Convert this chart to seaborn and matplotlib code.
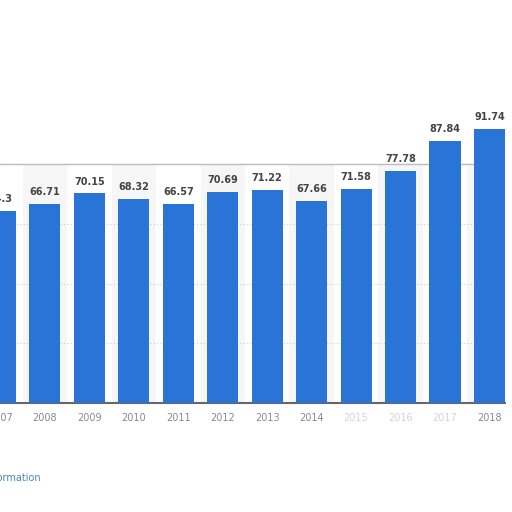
import numpy as np
import matplotlib.pyplot as plt
import pandas as pd
import seaborn as sns

years = ["2007", "2008", "2009", "2010", "2011", "2012",
         "2013", "2014", "2015", "2016", "2017", "2018"]
values = [64.3, 66.71, 70.15, 68.32, 66.57, 70.69,
          71.22, 67.66, 71.58, 77.78, 87.84, 91.74]
faded_years = ["2015", "2016", "2017"]

df = pd.DataFrame({"year": years, "value": values})

sns.set_style("white")
plt.rcParams["font.family"] = ["DejaVu Sans"]

fig = plt.figure(figsize=(5.12, 5.12), dpi=100)
ax = fig.add_axes([0.0, 109 / 512, 505 / 512, 298.7 / 512])

# faint alternating column bands
for i in range(len(years)):
    if i % 2 == 1:
        ax.axvspan(i - 0.5, i + 0.5, ymin=0, ymax=0.8, color="#f6f6f6", zorder=0, lw=0)

sns.barplot(data=df, x="year", y="value", order=years, color="#2a74d8",
            saturation=1, width=0.7, linewidth=0, ax=ax, zorder=3)

for i, v in enumerate(values):
    ax.annotate(f"{v:g}", (i, v), xytext=(0, 5), textcoords="offset points",
                ha="center", va="bottom", fontsize=7, fontweight="bold",
                color="#444444", zorder=4)

ax.set_xlim(-0.011, 11.35)
ax.set_ylim(0, 100)
for g in [20, 40, 60]:
    ax.axhline(g, color="#cccccc", linestyle=(0, (1, 2)), lw=0.8, zorder=1)
ax.axhline(80, color="#bbbbbb", lw=1, zorder=1)

for s in ["top", "right", "left"]:
    ax.spines[s].set_visible(False)
ax.spines["bottom"].set_color("#666666")
ax.spines["bottom"].set_linewidth(1.5)
ax.set_yticks([])
ax.set_xlabel("")
ax.set_ylabel("")
ax.tick_params(axis="x", length=0, pad=7, labelsize=7, labelcolor="#8a8a8a")
for lbl in ax.get_xticklabels():
    if lbl.get_text() in faded_years:
        lbl.set_color("#d4d4d4")

fig.text(41 / 512, 1 - 478 / 512, "More information", ha="right", va="center",
         fontsize=7, color="#4a86ad")

fig.savefig("out.png", dpi=100)
